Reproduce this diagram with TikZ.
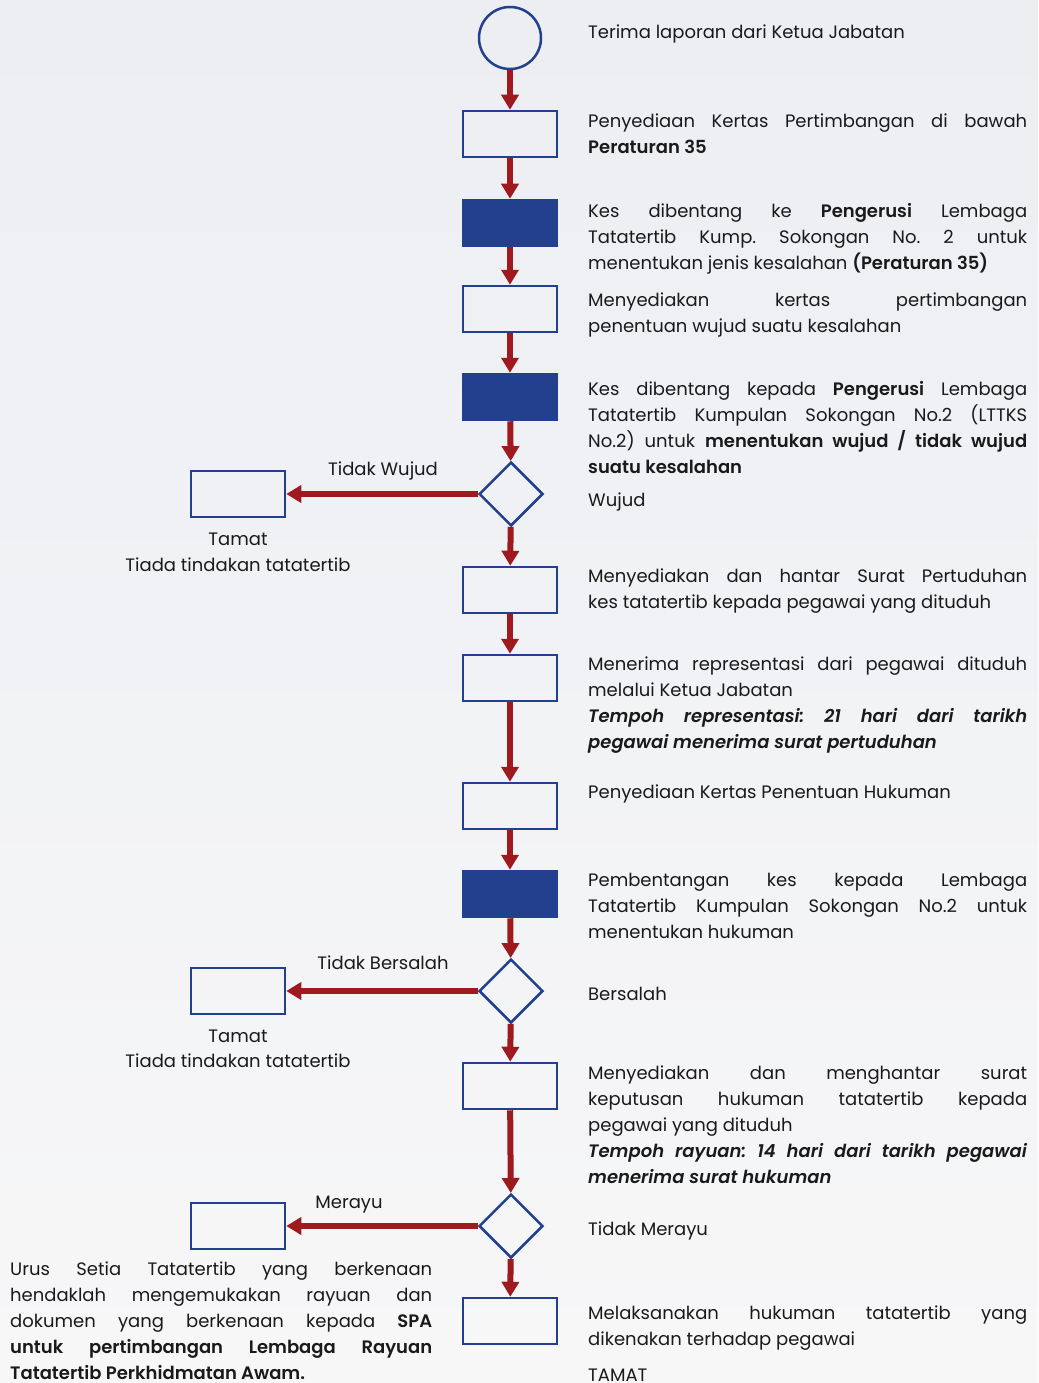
\documentclass[tikz,border=0pt]{standalone}
\usepackage{fontspec}
\setmainfont{Poppins}[BoldFont={Poppins SemiBold},BoldItalicFont={Poppins SemiBold Italic}]
\usetikzlibrary{shapes.geometric,arrows.meta}
\frenchspacing
\definecolor{fblue}{HTML}{23408E}
\definecolor{fred}{HTML}{9E1A1E}
\definecolor{ftext}{HTML}{1A1A1A}
\definecolor{bgtop}{HTML}{ECEEF2}
\definecolor{bgbot}{HTML}{F7F7F8}
\newcommand{\jl}[2][439pt]{\makebox[#1][s]{#2}\\}
\tikzset{
  bx/.style={draw=fblue, line width=2.5pt, rectangle, minimum width=94pt, minimum height=46pt, inner sep=0pt},
  fbx/.style={bx, fill=fblue},
  cir/.style={draw=fblue, line width=2.5pt, circle, minimum size=62pt, inner sep=0pt},
  dia/.style={draw=fblue, line width=2.5pt, diamond, aspect=1, minimum width=64pt, minimum height=64pt, inner sep=0pt},
  arr/.style={draw=fred, line width=6pt, -{Triangle[length=15pt,width=17pt]}},
  txt/.style={text=ftext, font=\fontsize{18}{26}\selectfont\frenchspacing, inner sep=0pt, align=left, anchor=base west},
  lbl/.style={text=ftext, font=\fontsize{18}{26}\selectfont, inner sep=0pt, anchor=base}
}
\begin{document}
\begin{tikzpicture}[x=1pt,y=-1pt]
\useasboundingbox (0,0) rectangle (1038,1383);
\shade[top color=bgtop, bottom color=bgbot] (0,0) rectangle (1038,1383);
% main column
\node[cir] (c0) at (510,38) {};
\node[bx] (r1) at (510,134) {};
\node[fbx] (f2) at (510,223) {};
\node[bx] (r3) at (510,309) {};
\node[fbx] (f4) at (510,397) {};
\node[dia] (d1) at (511,494) {};
\node[bx] (r5) at (510,590) {};
\node[bx] (r6) at (510,678) {};
\node[bx] (r7) at (510,806) {};
\node[fbx] (f8) at (510,894) {};
\node[dia] (d2) at (511,991) {};
\node[bx] (r9) at (510,1086) {};
\node[dia] (d3) at (511,1226) {};
\node[bx] (r10) at (510,1321) {};
% side boxes
\node[bx] (l1) at (238,494) {};
\node[bx] (l2) at (238,991) {};
\node[bx] (l3) at (238,1226) {};
% arrows
\draw[arr] (c0) -- (r1);
\draw[arr] (r1) -- (f2);
\draw[arr] (f2) -- (r3);
\draw[arr] (r3) -- (f4);
\draw[arr] (f4) -- (d1);
\draw[arr] (d1) -- (r5);
\draw[arr] (r5) -- (r6);
\draw[arr] (r6) -- (r7);
\draw[arr] (r7) -- (f8);
\draw[arr] (f8) -- (d2);
\draw[arr] (d2) -- (r9);
\draw[arr] (r9) -- (d3);
\draw[arr] (d3) -- (r10);
\draw[arr] (d1) -- (l1);
\draw[arr] (d2) -- (l2);
\draw[arr] (d3) -- (l3);
% side labels
\node[lbl] (t1) at (383,475) {Tidak Wujud};
\node[lbl] (t1a) at (238,545) {Tamat};
\node[lbl] (t1b) at (238,571) {Tiada tindakan tatatertib};
\node[lbl] (t2) at (383,969) {Tidak Bersalah};
\node[lbl] (t2a) at (238,1042) {Tamat};
\node[lbl] (t2b) at (238,1067) {Tiada tindakan tatatertib};
\node[lbl] (t3) at (349,1208) {Merayu};
\node[txt] (bl) at (10,1379) {\jl[422pt]{Urus Setia Tatatertib yang berkenaan}\jl[422pt]{hendaklah mengemukakan rayuan dan}\jl[422pt]{dokumen yang berkenaan kepada \textbf{SPA}}\jl[422pt]{\textbf{untuk pertimbangan Lembaga Rayuan}}\textbf{Tatatertib Perkhidmatan Awam.}};
% right texts (anchor = baseline of last line)
\node[txt] (a0) at (588,39) {Terima laporan dari Ketua Jabatan};
\node[txt] (a1) at (588,154) {\jl{Penyediaan Kertas Pertimbangan di bawah}\textbf{Peraturan 35}};
\node[txt] (a2) at (588,269) {\jl{Kes dibentang ke \textbf{Pengerusi} Lembaga}\jl{Tatatertib Kump. Sokongan No. 2 untuk}menentukan jenis kesalahan \textbf{(Peraturan 35)}};
\node[txt] (a3) at (588,332) {\jl{Menyediakan kertas pertimbangan}penentuan wujud suatu kesalahan};
\node[txt] (a4) at (588,473) {\jl{Kes dibentang kepada \textbf{Pengerusi} Lembaga}\jl{Tatatertib Kumpulan Sokongan No.2 (LTTKS}\jl{No.2) untuk \textbf{menentukan wujud / tidak wujud}}\textbf{suatu kesalahan}};
\node[txt] (a5) at (588,506) {Wujud};
\node[txt] (a6) at (588,608) {\jl{Menyediakan dan hantar Surat Pertuduhan}kes tatatertib kepada pegawai yang dituduh};
\node[txt] (a7) at (588,748) {\jl{Menerima representasi dari pegawai dituduh}melalui Ketua Jabatan\\\jl{\textbf{\textit{Tempoh representasi: 21 hari dari tarikh}}}\textbf{\textit{pegawai menerima surat pertuduhan}}};
\node[txt] (a8) at (588,798) {Penyediaan Kertas Penentuan Hukuman};
\node[txt] (a9) at (588,938) {\jl{Pembentangan kes kepada Lembaga}\jl{Tatatertib Kumpulan Sokongan No.2 untuk}menentukan hukuman};
\node[txt] (a10) at (588,1000) {Bersalah};
\node[txt] (a11) at (588,1183) {\jl{Menyediakan dan menghantar surat}\jl{keputusan hukuman tatatertib kepada}pegawai yang dituduh\\\jl{\textbf{\textit{Tempoh rayuan: 14 hari dari tarikh pegawai}}}\textbf{\textit{menerima surat hukuman}}};
\node[txt] (a12) at (588,1235) {Tidak Merayu};
\node[txt] (a13) at (588,1345) {\jl{Melaksanakan hukuman tatatertib yang}dikenakan terhadap pegawai};
\node[txt] (a14) at (588,1381) {TAMAT};
\end{tikzpicture}
\end{document}
